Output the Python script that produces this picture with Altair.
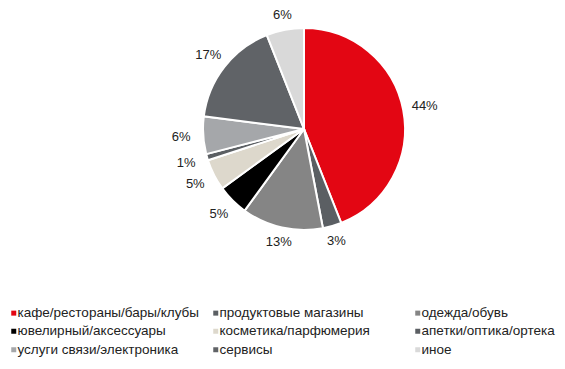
import altair as alt
import pandas as pd

categories = ["кафе/рестораны/бары/клубы", "продуктовые магазины", "одежда/обувь",
              "ювелирный/аксессуары", "косметика/парфюмерия", "апетки/оптика/ортека",
              "услуги связи/электроника", "сервисы", "иное"]
values = [44, 3, 13, 5, 5, 1, 6, 17, 6]
colors = ["#E30613", "#5B5F63", "#858585", "#000000", "#DDD8CC", "#5B5F63",
          "#A5A7AA", "#606367", "#D9D9D9"]

# legend fills column by column: reorder so rows read as in the reference
legend_idx = [0, 3, 6, 1, 4, 7, 2, 5, 8]
legend_domain = [categories[i] for i in legend_idx]
legend_range = [colors[i] for i in legend_idx]

df = pd.DataFrame({"cat": categories, "value": values, "order": list(range(len(values)))})
df["label"] = df["value"].astype(str) + "%"

arcs = alt.Chart(df).mark_arc(outerRadius=101, stroke="white", strokeWidth=2).encode(
    theta=alt.Theta("value:Q", stack=True),
    order=alt.Order("order:Q"),
    x=alt.value(296), y=alt.value(121),
    color=alt.Color("cat:N",
                    scale=alt.Scale(domain=legend_domain, range=legend_range),
                    legend=alt.Legend(title=None, orient="none", legendX=-1, legendY=298,
                                      columns=3, gridAlign="all", columnPadding=10,
                                      symbolType="square", symbolSize=25,
                                      labelFont="Liberation Sans", labelFontSize=13.5,
                                      labelColor="#222222", labelLimit=300,
                                      rowPadding=3.5, labelOffset={"expr": "-3"}, padding=0,
                                      symbolStrokeWidth=0)),
)

# label at the slice's mid angle, outside the pie, a little further out at the sides
labels = alt.Chart(df).mark_text(font="Liberation Sans", fontSize=13, color="#222222").transform_joinaggregate(
    total="sum(value)"
).transform_window(
    cum="sum(value)", sort=[alt.SortField("order")], frame=[None, 0]
).transform_calculate(
    mid="(datum.cum - datum.value / 2) / datum.total * 2 * PI",
    r="114 + 9 * abs(sin(datum.mid))",
).encode(
    theta=alt.Theta("mid:Q", scale=None, stack=None),
    radius=alt.Radius("r:Q", scale=None),
    x=alt.value(296), y=alt.value(121),
    text="label:N",
)

chart = alt.layer(arcs, labels).properties(
    width=549, height=349, padding=0, autosize="none"
).configure_view(stroke=None)

chart.save("out.html", embed_options={"renderer": "svg", "actions": False})
